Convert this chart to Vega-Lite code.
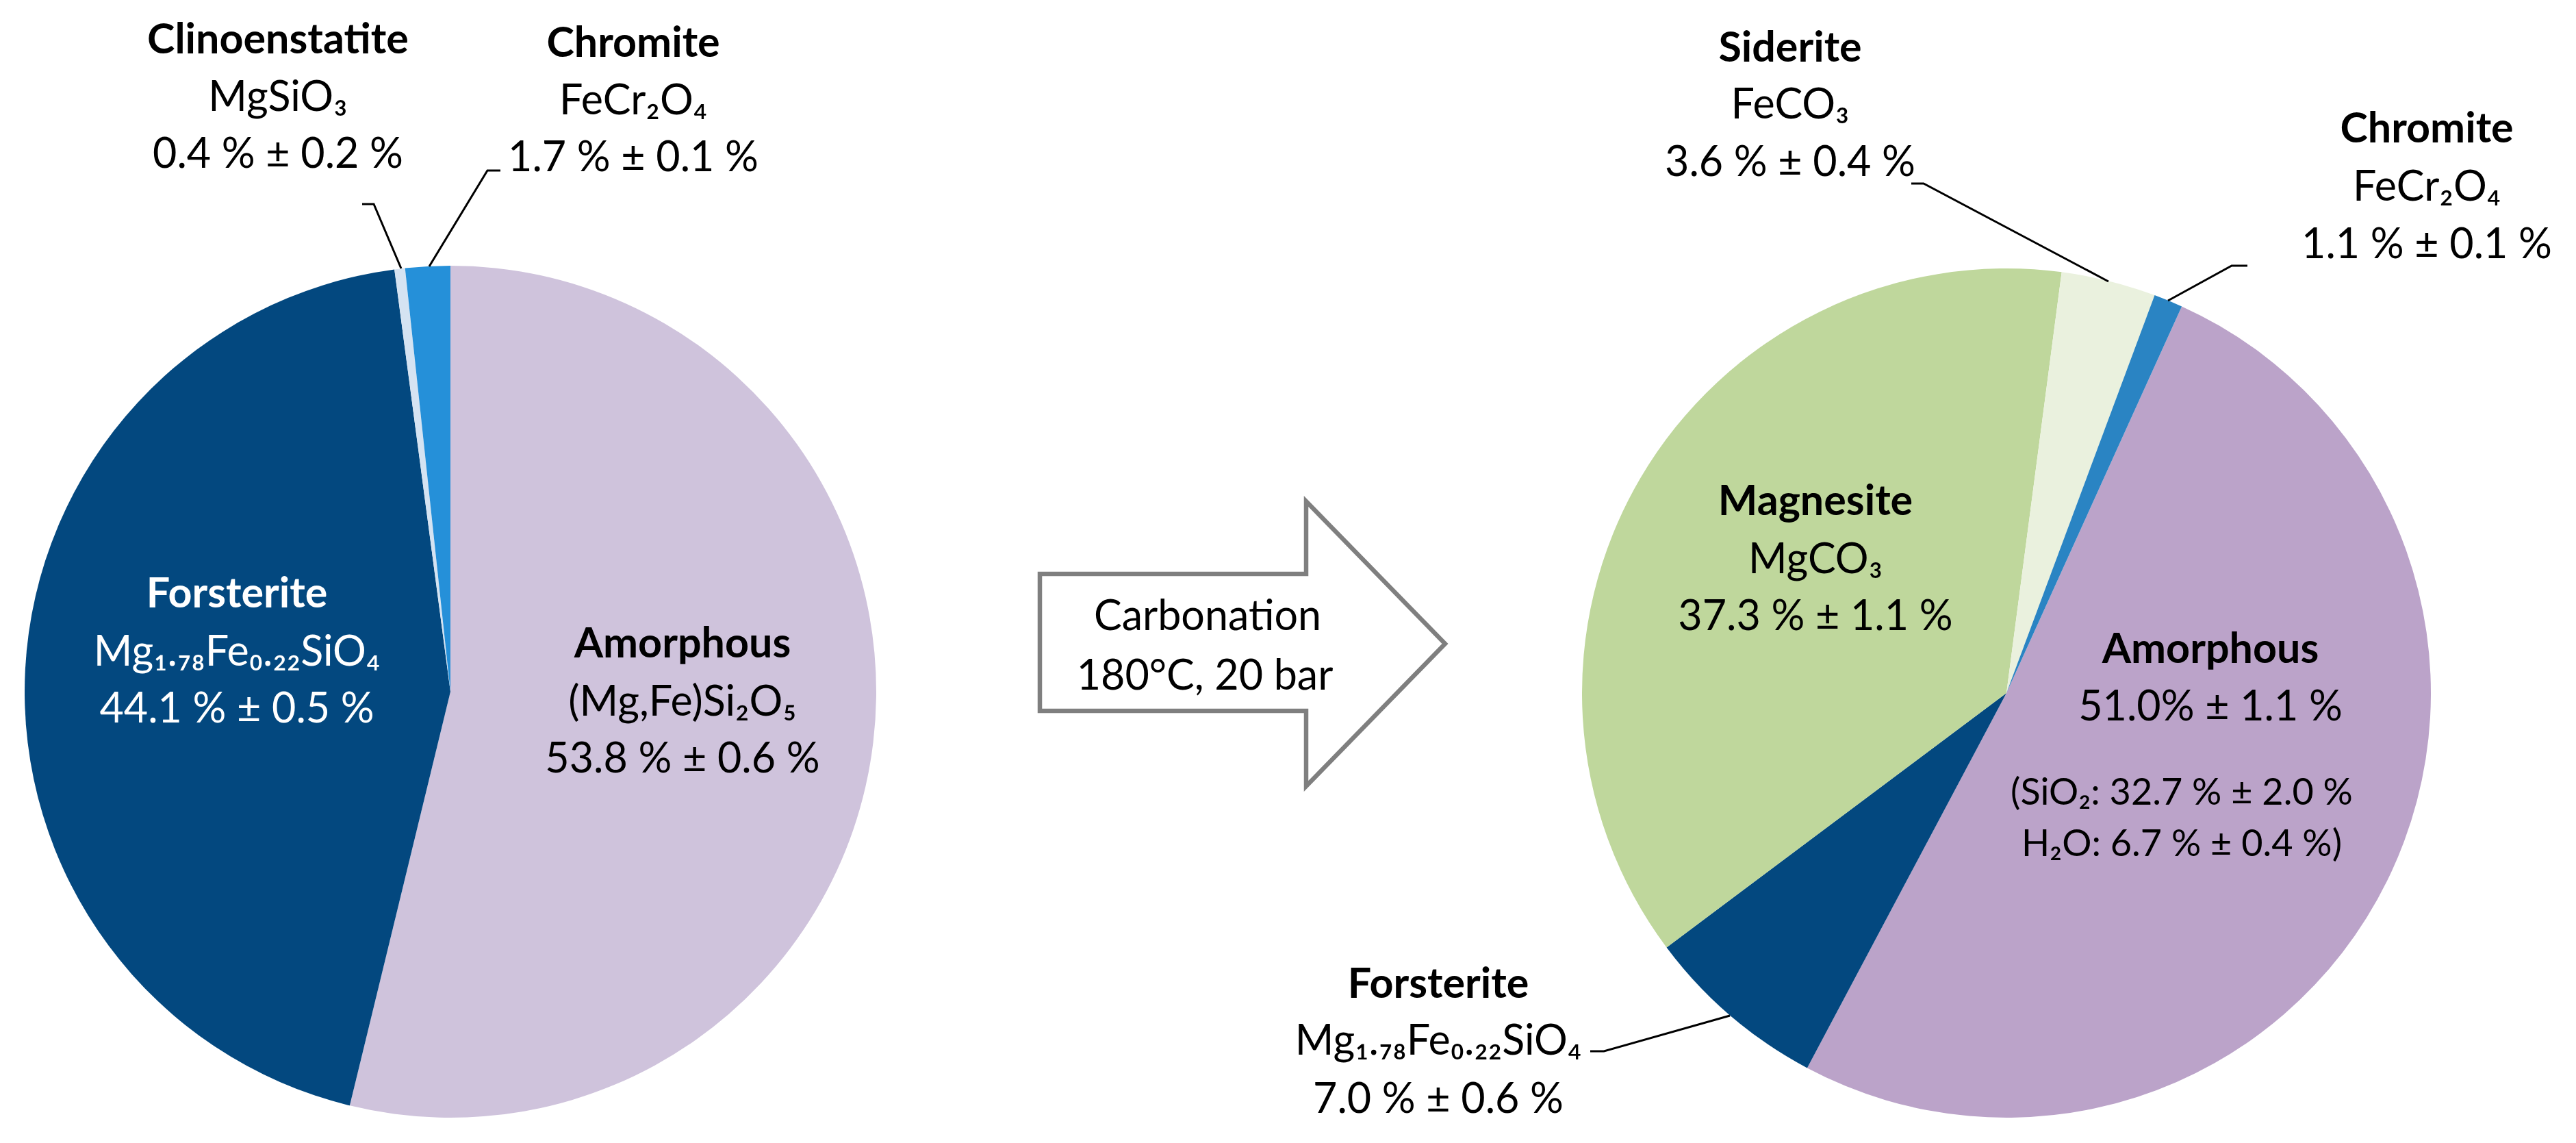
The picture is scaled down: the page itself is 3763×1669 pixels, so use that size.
{
  "$schema": "https://vega.github.io/schema/vega-lite/v6.json",
  "padding": 0,
  "background": "white",
  "spacing": 0,
  "bounds": "flush",
  "config": {"view": {"stroke": null}, "font": "Lato", "text": {"font": "Lato", "fontSize": 61, "align": "center", "baseline": "alphabetic", "color": "black"}},
  "resolve": {"scale": {"theta": "independent", "color": "independent"}},
  "hconcat": [
    {
      "width": 1316,
      "height": 1669,
      "data": {"values": [
        {"name": "Amorphous", "formula": "(Mg,Fe)Si₂O₅", "amount": "53.8 % ± 0.6 %", "pct": 53.8, "idx": 1},
        {"name": "Forsterite", "formula": "Mg₁.₇₈Fe₀.₂₂SiO₄", "amount": "44.1 % ± 0.5 %", "pct": 44.1, "idx": 2},
        {"name": "Clinoenstatite", "formula": "MgSiO₃", "amount": "0.4 % ± 0.2 %", "pct": 0.4, "idx": 3},
        {"name": "Chromite", "formula": "FeCr₂O₄", "amount": "1.7 % ± 0.1 %", "pct": 1.7, "idx": 4}
      ]},
      "transform": [{"stack": "pct", "groupby": [], "sort": [{"field": "idx", "order": "ascending"}], "as": ["p0", "p1"]}],
      "layer": [
        {
          "mark": {"type": "arc", "outerRadius": 622, "yOffset": 175.5},
          "encoding": {
            "theta": {"field": "p0", "type": "quantitative", "scale": {"domain": [0, 100], "range": [0, 6.283185]}},
            "theta2": {"field": "p1"},
            "color": {"field": "name", "type": "nominal", "legend": null,
              "scale": {"domain": ["Amorphous", "Forsterite", "Clinoenstatite", "Chromite"], "range": ["#CFC3DC", "#03487F", "#D5E3F2", "#2590D9"]}}
          }
        },
        {
          "data": {"values": [{"part": "leader lines"}]},
          "mark": {"type": "point", "shape": "M-129,-712L-112,-712L-72,-618M73,-761L54,-761L-31,-621", "size": 4, "filled": false, "stroke": "black", "strokeWidth": 3, "opacity": 1, "yOffset": 175.5},
          "encoding": {}
        },
        {
          "transform": [
            {"fold": ["p0", "p1"], "as": ["edge", "angle"]},
            {"aggregate": [{"op": "mean", "field": "angle", "as": "mid"}], "groupby": ["name", "formula", "amount"]}
          ],
          "encoding": {"theta": {"field": "mid", "type": "quantitative"}},
          "layer": [
            {"transform": [{"filter": "datum.name === 'Amorphous'"}],
             "mark": {"type": "text", "radius": 340, "dx": 1.4, "dy": -90.5, "yOffset": 175.5, "fontWeight": "bold"},
             "encoding": {"text": {"field": "name", "type": "nominal"}}},
            {"transform": [{"filter": "datum.name === 'Amorphous'"}],
             "mark": {"type": "text", "radius": 340, "dx": 1.4, "dy": -5.5, "yOffset": 175.5},
             "encoding": {"text": {"field": "formula", "type": "nominal"}}},
            {"transform": [{"filter": "datum.name === 'Amorphous'"}],
             "mark": {"type": "text", "radius": 340, "dx": 1.4, "dy": 77.5, "yOffset": 175.5},
             "encoding": {"text": {"field": "amount", "type": "nominal"}}},

            {"transform": [{"filter": "datum.name === 'Forsterite'"}],
             "mark": {"type": "text", "radius": 314, "dx": 1.6, "dy": -106.2, "yOffset": 175.5, "fontWeight": "bold", "color": "white"},
             "encoding": {"text": {"field": "name", "type": "nominal"}}},
            {"transform": [{"filter": "datum.name === 'Forsterite'"}],
             "mark": {"type": "text", "radius": 314, "dx": 1.6, "dy": -21.2, "yOffset": 175.5, "color": "white"},
             "encoding": {"text": {"field": "formula", "type": "nominal"}}},
            {"transform": [{"filter": "datum.name === 'Forsterite'"}],
             "mark": {"type": "text", "radius": 314, "dx": 1.6, "dy": 61.8, "yOffset": 175.5, "color": "white"},
             "encoding": {"text": {"field": "amount", "type": "nominal"}}},

            {"transform": [{"filter": "datum.name === 'Clinoenstatite'"}],
             "mark": {"type": "text", "radius": 850, "dx": -150.8, "dy": -88.1, "yOffset": 175.5, "fontWeight": "bold"},
             "encoding": {"text": {"field": "name", "type": "nominal"}}},
            {"transform": [{"filter": "datum.name === 'Clinoenstatite'"}],
             "mark": {"type": "text", "radius": 850, "dx": -150.8, "dy": -4.1, "yOffset": 175.5},
             "encoding": {"text": {"field": "formula", "type": "nominal"}}},
            {"transform": [{"filter": "datum.name === 'Clinoenstatite'"}],
             "mark": {"type": "text", "radius": 850, "dx": -150.8, "dy": 78.9, "yOffset": 175.5},
             "encoding": {"text": {"field": "amount", "type": "nominal"}}},

            {"transform": [{"filter": "datum.name === 'Chromite'"}],
             "mark": {"type": "text", "radius": 880, "dx": 314, "dy": -48.3, "yOffset": 175.5, "fontWeight": "bold"},
             "encoding": {"text": {"field": "name", "type": "nominal"}}},
            {"transform": [{"filter": "datum.name === 'Chromite'"}],
             "mark": {"type": "text", "radius": 880, "dx": 314, "dy": 35.7, "yOffset": 175.5},
             "encoding": {"text": {"field": "formula", "type": "nominal"}}},
            {"transform": [{"filter": "datum.name === 'Chromite'"}],
             "mark": {"type": "text", "radius": 880, "dx": 314, "dy": 118.7, "yOffset": 175.5},
             "encoding": {"text": {"field": "amount", "type": "nominal"}}}
          ]
        }
      ]
    },
    {
      "width": 998,
      "height": 1669,
      "data": {"values": [{"step": "Carbonation", "conditions": "180°C, 20 bar"}]},
      "layer": [
        {
          "mark": {"type": "point", "shape": "M-296,-102L93,-102L93,-208L296,0L93,208L93,98L-296,98Z", "size": 4, "filled": true, "fill": "white", "stroke": "#7F7F7F", "strokeWidth": 6.5, "strokeJoin": "miter", "opacity": 1, "yOffset": 105.5},
          "encoding": {}
        },
        {
          "mark": {"type": "text", "dx": -51, "yOffset": 85.5},
          "encoding": {"text": {"field": "step", "type": "nominal"}}
        },
        {
          "mark": {"type": "text", "dx": -55, "yOffset": 172.5},
          "encoding": {"text": {"field": "conditions", "type": "nominal"}}
        }
      ]
    },
    {
      "width": 1234,
      "height": 1669,
      "data": {"values": [
        {"name": "Amorphous", "formula": "", "amount": "51.0% ± 1.1 %", "note1": "(SiO₂: 32.7 % ± 2.0 %", "note2": "H₂O: 6.7 % ± 0.4 %)", "pct": 51.0, "idx": 1},
        {"name": "Forsterite", "formula": "Mg₁.₇₈Fe₀.₂₂SiO₄", "amount": "7.0 % ± 0.6 %", "note1": "", "note2": "", "pct": 7.0, "idx": 2},
        {"name": "Magnesite", "formula": "MgCO₃", "amount": "37.3 % ± 1.1 %", "note1": "", "note2": "", "pct": 37.3, "idx": 3},
        {"name": "Siderite", "formula": "FeCO₃", "amount": "3.6 % ± 0.4 %", "note1": "", "note2": "", "pct": 3.6, "idx": 4},
        {"name": "Chromite", "formula": "FeCr₂O₄", "amount": "1.1 % ± 0.1 %", "note1": "", "note2": "", "pct": 1.1, "idx": 5}
      ]},
      "transform": [{"stack": "pct", "groupby": [], "sort": [{"field": "idx", "order": "ascending"}], "as": ["p0", "p1"]}],
      "layer": [
        {
          "mark": {"type": "arc", "outerRadius": 620, "yOffset": 177.5},
          "encoding": {
            "theta": {"field": "p0", "type": "quantitative", "scale": {"domain": [0, 100], "range": [0.425861, 6.709046]}},
            "theta2": {"field": "p1"},
            "color": {"field": "name", "type": "nominal", "legend": null,
              "scale": {"domain": ["Amorphous", "Forsterite", "Magnesite", "Siderite", "Chromite"], "range": ["#BBA3C9", "#03487F", "#BFD79C", "#EAF1DE", "#2A84C3"]}}
          }
        },
        {
          "data": {"values": [{"part": "leader lines"}]},
          "mark": {"type": "point", "shape": "M-139,-744L-121,-744L149,-601M352,-624L329,-624L236,-573M-608,523L-588,523L-404,471", "size": 4, "filled": false, "stroke": "black", "strokeWidth": 3, "opacity": 1, "yOffset": 177.5},
          "encoding": {}
        },
        {
          "transform": [
            {"fold": ["p0", "p1"], "as": ["edge", "angle"]},
            {"aggregate": [{"op": "mean", "field": "angle", "as": "mid"}], "groupby": ["name", "formula", "amount", "note1", "note2"]}
          ],
          "encoding": {"theta": {"field": "mid", "type": "quantitative"}},
          "layer": [
            {"transform": [{"filter": "datum.name === 'Amorphous'"}],
             "mark": {"type": "text", "radius": 300, "dx": 28.8, "dy": -176.5, "yOffset": 177.5, "fontWeight": "bold"},
             "encoding": {"text": {"field": "name", "type": "nominal"}}},
            {"transform": [{"filter": "datum.name === 'Amorphous'"}],
             "mark": {"type": "text", "radius": 300, "dx": 28.8, "dy": -92.5, "yOffset": 177.5},
             "encoding": {"text": {"field": "amount", "type": "nominal"}}},
            {"transform": [{"filter": "datum.name === 'Amorphous'"}],
             "mark": {"type": "text", "radius": 300, "dx": -13.2, "dy": 30.5, "yOffset": 177.5, "fontSize": 54},
             "encoding": {"text": {"field": "note1", "type": "nominal"}}},
            {"transform": [{"filter": "datum.name === 'Amorphous'"}],
             "mark": {"type": "text", "radius": 300, "dx": -13.2, "dy": 105.5, "yOffset": 177.5, "fontSize": 54},
             "encoding": {"text": {"field": "note2", "type": "nominal"}}},

            {"transform": [{"filter": "datum.name === 'Forsterite'"}],
             "mark": {"type": "text", "radius": 980, "dx": -192.2, "dy": -299.1, "yOffset": 177.5, "fontWeight": "bold"},
             "encoding": {"text": {"field": "name", "type": "nominal"}}},
            {"transform": [{"filter": "datum.name === 'Forsterite'"}],
             "mark": {"type": "text", "radius": 980, "dx": -192.2, "dy": -216.1, "yOffset": 177.5},
             "encoding": {"text": {"field": "formula", "type": "nominal"}}},
            {"transform": [{"filter": "datum.name === 'Forsterite'"}],
             "mark": {"type": "text", "radius": 980, "dx": -192.2, "dy": -131.1, "yOffset": 177.5},
             "encoding": {"text": {"field": "amount", "type": "nominal"}}},

            {"transform": [{"filter": "datum.name === 'Magnesite'"}],
             "mark": {"type": "text", "radius": 330, "dx": 5.8, "dy": -93.3, "yOffset": 177.5, "fontWeight": "bold"},
             "encoding": {"text": {"field": "name", "type": "nominal"}}},
            {"transform": [{"filter": "datum.name === 'Magnesite'"}],
             "mark": {"type": "text", "radius": 330, "dx": 5.8, "dy": -8.3, "yOffset": 177.5},
             "encoding": {"text": {"field": "formula", "type": "nominal"}}},
            {"transform": [{"filter": "datum.name === 'Magnesite'"}],
             "mark": {"type": "text", "radius": 330, "dx": 5.8, "dy": 74.7, "yOffset": 177.5},
             "encoding": {"text": {"field": "amount", "type": "nominal"}}},

            {"transform": [{"filter": "datum.name === 'Siderite'"}],
             "mark": {"type": "text", "radius": 900, "dx": -533.1, "dy": -48.6, "yOffset": 177.5, "fontWeight": "bold"},
             "encoding": {"text": {"field": "name", "type": "nominal"}}},
            {"transform": [{"filter": "datum.name === 'Siderite'"}],
             "mark": {"type": "text", "radius": 900, "dx": -533.1, "dy": 34.4, "yOffset": 177.5},
             "encoding": {"text": {"field": "formula", "type": "nominal"}}},
            {"transform": [{"filter": "datum.name === 'Siderite'"}],
             "mark": {"type": "text", "radius": 900, "dx": -533.1, "dy": 118.4, "yOffset": 177.5},
             "encoding": {"text": {"field": "amount", "type": "nominal"}}},

            {"transform": [{"filter": "datum.name === 'Chromite'"}],
             "mark": {"type": "text", "radius": 945, "dx": 253.6, "dy": 69.6, "yOffset": 177.5, "fontWeight": "bold"},
             "encoding": {"text": {"field": "name", "type": "nominal"}}},
            {"transform": [{"filter": "datum.name === 'Chromite'"}],
             "mark": {"type": "text", "radius": 945, "dx": 253.6, "dy": 154.6, "yOffset": 177.5},
             "encoding": {"text": {"field": "formula", "type": "nominal"}}},
            {"transform": [{"filter": "datum.name === 'Chromite'"}],
             "mark": {"type": "text", "radius": 945, "dx": 253.6, "dy": 238.6, "yOffset": 177.5},
             "encoding": {"text": {"field": "amount", "type": "nominal"}}}
          ]
        }
      ]
    }
  ]
}
